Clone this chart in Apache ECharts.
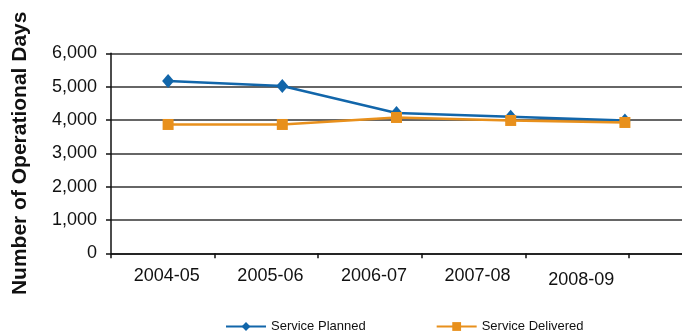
<!DOCTYPE html>
<html>
<head>
<meta charset="utf-8">
<script src="https://cdn.jsdelivr.net/npm/echarts@6/dist/echarts.min.js"></script>
<style>
html,body{margin:0;padding:0;background:#fff;}
#chart{width:682px;height:335px;}
</style>
</head>
<body>
<div id="chart"></div>
<script>
var categories = ['2004-05', '2005-06', '2006-07', '2007-08', '2008-09'];
var servicePlanned = [5170, 5020, 4210, 4100, 3985];
var serviceDelivered = [3865, 3865, 4075, 3985, 3925];
var yTicks = [0, 1000, 2000, 3000, 4000, 5000, 6000];

var chart = echarts.init(document.getElementById('chart'), null, {renderer: 'canvas'});
var font = 'Liberation Sans';
chart.setOption({
  animation: false,
  backgroundColor: '#fff',
  grid: [
    {left: 111, right: -7, top: 53.3, bottom: 81.7, containLabel: false},
    {left: 111, width: 518, top: 53.3, bottom: 81.7, containLabel: false}
  ],
  legend: {
    bottom: -3,
    left: 220,
    itemWidth: 40,
    itemHeight: 11,
    itemGap: 70,
    textStyle: {fontFamily: font, fontSize: 13, color: '#111'},
    data: ['Service Planned', 'Service Delivered']
  },
  xAxis: [
    {
      type: 'category',
      gridIndex: 0,
      data: categories,
      boundaryGap: true,
      axisLine: {show: true, lineStyle: {color: '#111', width: 1.5}},
      axisTick: {show: false},
      axisLabel: {show: false},
      splitLine: {show: false}
    },
    {
      type: 'category',
      gridIndex: 1,
      data: categories,
      boundaryGap: true,
      axisLine: {show: false},
      axisTick: {show: true, interval: 0, length: 5, alignWithLabel: false, lineStyle: {color: '#111', width: 1.5}},
      axisLabel: {
        interval: 0,
        hideOverlap: false,
        fontFamily: font, fontSize: 18, color: '#111', margin: 14,
        formatter: function (v, i) { return (i === categories.length - 1 ? '{low|' : '{n|') + v + '}'; },
        rich: {
          n: {fontFamily: font, fontSize: 18, color: '#111', padding: [0, 0, 0, 8]},
          low: {fontFamily: font, fontSize: 18, color: '#111', padding: [4, 0, 0, 8]}
        }
      },
      splitLine: {show: false}
    }
  ],
  yAxis: [
    {
      type: 'value',
      gridIndex: 0,
      min: yTicks[0],
      max: yTicks[yTicks.length - 1],
      interval: 1000,
      name: 'Number of Operational Days',
      nameLocation: 'middle',
      nameRotate: 90,
      nameGap: 80,
      nameTextStyle: {fontFamily: font, fontSize: 21, fontWeight: 'bold', color: '#111'},
      axisLine: {show: true, lineStyle: {color: '#111', width: 1.5}},
      axisTick: {show: true, length: 5, lineStyle: {color: '#111', width: 1.5}},
      axisLabel: {
        fontFamily: font, fontSize: 18, color: '#111', margin: 14,
        formatter: function (v) { return v.toLocaleString('en-US'); }
      },
      splitLine: {show: true, lineStyle: {color: '#333', width: 1.5}}
    },
    {
      type: 'value',
      gridIndex: 1,
      min: yTicks[0],
      max: yTicks[yTicks.length - 1],
      show: false
    }
  ],
  series: [
    {
      name: 'Service Planned',
      type: 'line',
      xAxisIndex: 0,
      yAxisIndex: 0,
      data: servicePlanned,
      symbol: 'diamond',
      symbolSize: [12, 14],
      itemStyle: {color: '#1266aa'},
      lineStyle: {color: '#1266aa', width: 2.5},
      z: 2
    },
    {
      name: 'Service Delivered',
      type: 'line',
      xAxisIndex: 0,
      yAxisIndex: 0,
      data: serviceDelivered,
      symbol: 'rect',
      symbolSize: 11,
      itemStyle: {color: '#e8901c'},
      lineStyle: {color: '#e8901c', width: 2.5},
      z: 3
    }
  ]
});
</script>
</body>
</html>
